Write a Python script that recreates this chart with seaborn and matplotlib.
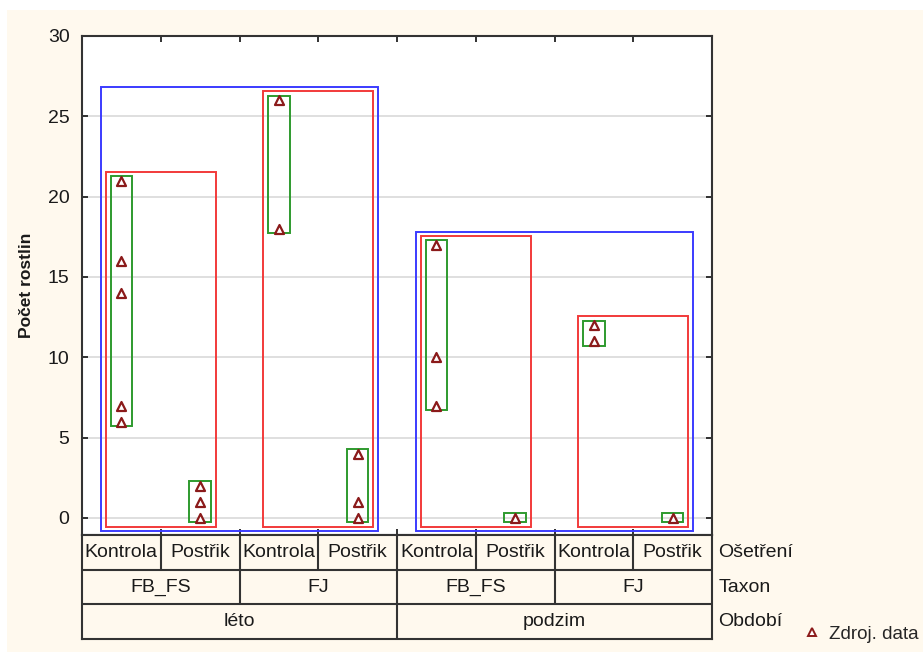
import matplotlib
matplotlib.use("Agg")
import matplotlib.pyplot as plt
from matplotlib.patches import Rectangle
from matplotlib.lines import Line2D
import numpy as np
import pandas as pd
import seaborn as sns

# Factor levels (outer to inner)
periods = ["léto", "podzim"]
taxa = ["FB_FS", "FJ"]
treatments = ["Kontrola", "Postřik"]

# Plant counts per cell
leto_fbfs_kontrola = [21, 16, 14, 7, 6]
leto_fbfs_postrik = [2, 1, 0]
leto_fj_kontrola = [26, 18]
leto_fj_postrik = [4, 1, 0]
podzim_fbfs_kontrola = [17, 10, 7]
podzim_fbfs_postrik = [0]
podzim_fj_kontrola = [12, 11]
podzim_fj_postrik = [0]

yticks = [0, 5, 10, 15, 20, 25, 30]

cells = [
    ("léto", "FB_FS", "Kontrola", leto_fbfs_kontrola),
    ("léto", "FB_FS", "Postřik", leto_fbfs_postrik),
    ("léto", "FJ", "Kontrola", leto_fj_kontrola),
    ("léto", "FJ", "Postřik", leto_fj_postrik),
    ("podzim", "FB_FS", "Kontrola", podzim_fbfs_kontrola),
    ("podzim", "FB_FS", "Postřik", podzim_fbfs_postrik),
    ("podzim", "FJ", "Kontrola", podzim_fj_kontrola),
    ("podzim", "FJ", "Postřik", podzim_fj_postrik),
]

rows = []
for i, (p, t, o, vals) in enumerate(cells):
    for v in vals:
        rows.append({"Období": p, "Taxon": t, "Ošetření": o, "pos": i + 0.5, "Počet": v})
df = pd.DataFrame(rows)

CREAM = "#FFF9EE"
sns.set_theme(style="white")
plt.rcParams["font.family"] = ["Liberation Sans", "DejaVu Sans"]

W, H = 923, 652
fig = plt.figure(figsize=(W / 100, H / 100), dpi=100)
fig.patch.set_facecolor(CREAM)
# white margin at the top and left edges
fig.patches.append(Rectangle((0, 1 - 10 / H), 1, 10 / H, transform=fig.transFigure,
                             facecolor="white", edgecolor="none", zorder=-5))
fig.patches.append(Rectangle((0, 0), 7 / W, 1, transform=fig.transFigure,
                             facecolor="white", edgecolor="none", zorder=-5))

L, R, T, B = 82, 712, 36, 535
ax = fig.add_axes([L / W, 1 - B / H, (R - L) / W, (B - T) / H])
ax.set_facecolor("white")

ncol = len(cells)
ax.set_xlim(0, ncol)
ax.set_ylim(-1.06, 30)

for y in yticks:
    ax.axhline(y, color="#D9D9D9", lw=1.2, zorder=0)

# nested range boxes: period (blue), taxon (red), treatment cell (green)
def box(x0, x1, y0, y1, color):
    ax.add_patch(Rectangle((x0, y0), x1 - x0, y1 - y0, fill=False,
                           edgecolor=color, lw=1.4, zorder=2))

for p in periods:
    sub = df[df["Období"] == p]
    box(sub["pos"].min() - 0.265, sub["pos"].max() + 0.265,
        sub["Počet"].min() - 0.83, sub["Počet"].max() + 0.8, "#3B3BFF")
    for t in taxa:
        s2 = sub[sub["Taxon"] == t]
        box(s2["pos"].min() - 0.2, s2["pos"].max() + 0.2,
            s2["Počet"].min() - 0.55, s2["Počet"].max() + 0.55, "#F23A3A")
        for o in treatments:
            s3 = s2[s2["Ošetření"] == o]
            box(s3["pos"].min() - 0.135, s3["pos"].max() + 0.135,
                s3["Počet"].min() - 0.28, s3["Počet"].max() + 0.28, "#2E9A2E")

sns.scatterplot(data=df, x="pos", y="Počet", ax=ax, marker="^", s=42,
                color="#8B1A1A", edgecolor="#8B1A1A", linewidth=1.6, zorder=3,
                legend=False)
ax.collections[-1].set_facecolor("white")

ax.set_xticks(np.arange(1, ncol))
ax.set_xticklabels([])
ax.set_yticks(yticks)
ax.set_yticklabels([str(v) for v in yticks], fontsize=14, color="#1a1a1a")
ax.tick_params(axis="both", direction="in", length=4, width=1.3, color="#222222",
               top=True, bottom=True, left=True, right=True, labelbottom=False)
ax.tick_params(axis="y", pad=9)
ax.set_xlabel("")
ax.set_ylabel("")
for sp in ax.spines.values():
    sp.set_color("#333333")
    sp.set_linewidth(1.5)

fig.text(27 / W, 1 - 285 / H, "Počet rostlin", rotation=90, ha="center", va="center",
         fontsize=12.5, fontweight="bold", color="#1a1a1a")

# factor table under the plot
TB = 639
tax = fig.add_axes([L / W, 1 - TB / H, (R - L) / W, (TB - B) / H])
tax.set_xlim(0, ncol)
tax.set_ylim(0, 3)
tax.set_facecolor(CREAM)
tax.set_xticks([])
tax.set_yticks([])
for sp in tax.spines.values():
    sp.set_color("#333333")
    sp.set_linewidth(1.5)
lc = "#333333"
for yb in (1, 2):
    tax.plot([0, ncol], [yb, yb], color=lc, lw=1.5)
for i in range(1, ncol):
    if i % 4 == 0:
        y0 = 0
    elif i % 2 == 0:
        y0 = 1
    else:
        y0 = 2
    tax.plot([i, i], [y0, 3], color=lc, lw=1.5)

fs = 14
for i, (p, t, o, _) in enumerate(cells):
    tax.text(i + 0.5, 2.5, o, ha="center", va="center", fontsize=fs, color="#1a1a1a")
for j in range(ncol // 2):
    tax.text(2 * j + 1, 1.5, cells[2 * j][1], ha="center", va="center", fontsize=fs, color="#1a1a1a")
for j in range(ncol // 4):
    tax.text(4 * j + 2, 0.5, cells[4 * j][0], ha="center", va="center", fontsize=fs, color="#1a1a1a")

for k, name in enumerate(["Ošetření", "Taxon", "Období"]):
    tax.text(ncol + 0.08, 2.5 - k, name, ha="left", va="center", fontsize=fs, color="#1a1a1a")

handle = Line2D([], [], marker="^", linestyle="none", markersize=5.5,
                markerfacecolor="white", markeredgecolor="#8B1A1A", markeredgewidth=1.4)
fig.legend(handles=[handle], labels=["Zdroj. data"], loc="center left",
           bbox_to_anchor=(803 / W, 1 - 634 / H), frameon=False, fontsize=13.5,
           handlelength=1.0, handletextpad=0.4, borderpad=0, borderaxespad=0)

fig.savefig("out.png", dpi=100, facecolor=fig.get_facecolor())
